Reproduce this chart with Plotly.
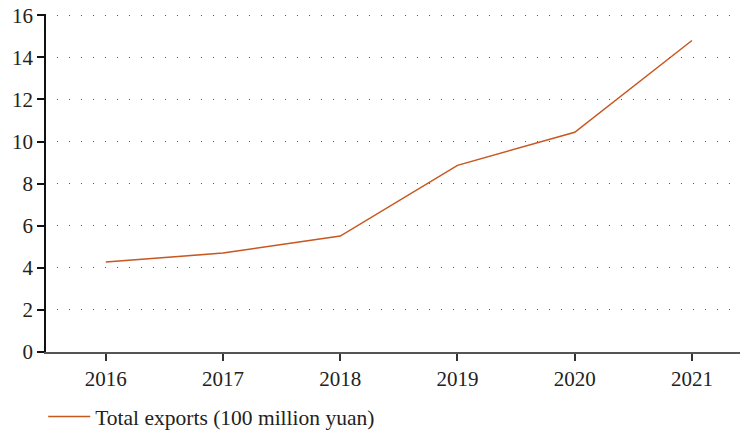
import plotly.graph_objects as go

years = [2016, 2017, 2018, 2019, 2020, 2021]
exports = [4.28, 4.70, 5.51, 8.87, 10.44, 14.80]
series_name = "Total exports (100 million yuan)"
y_ticks = [0, 2, 4, 6, 8, 10, 12, 14, 16]

fig = go.Figure()
fig.add_trace(go.Scatter(
    x=years, y=exports, mode="lines", name=series_name,
    line=dict(color="#C8561F", width=1.5),
))

font = dict(family="Liberation Serif, Times New Roman, serif", size=21, color="#222")

fig.update_layout(
    width=740, height=437,
    margin=dict(l=46, r=0, t=14, b=84),
    paper_bgcolor="white", plot_bgcolor="white",
    font=font,
    showlegend=True,
    legend=dict(x=-0.004, y=-0.192, xanchor="left", yanchor="middle",
                orientation="h", font=dict(font, size=21.5),
                itemwidth=42, bgcolor="rgba(0,0,0,0)"),
    xaxis=dict(
        range=[2015.49, 2021.41], tickmode="array", tickvals=years,
        ticktext=[str(y) for y in years],
        showgrid=False, zeroline=False, automargin=False,
        showline=True, linecolor="#555", linewidth=2,
        ticks="outside", ticklen=7, tickcolor="#333", tickwidth=1.5,
    ),
    yaxis=dict(
        range=[0, 16.06], tickmode="array", tickvals=y_ticks,
        showgrid=True, gridcolor="#555", gridwidth=1,
        griddash="0px,11px,1px,0px",
        zeroline=False, automargin=False,
        showline=True, linecolor="#111", linewidth=1.5,
        ticks="outside", ticklen=7, tickcolor="#111", tickwidth=1.5,
    ),
)

fig.write_html(
    "out.html",
    config={"displayModeBar": False},
    post_script="document.body.style.margin='0';document.body.style.overflow='hidden';",
)
